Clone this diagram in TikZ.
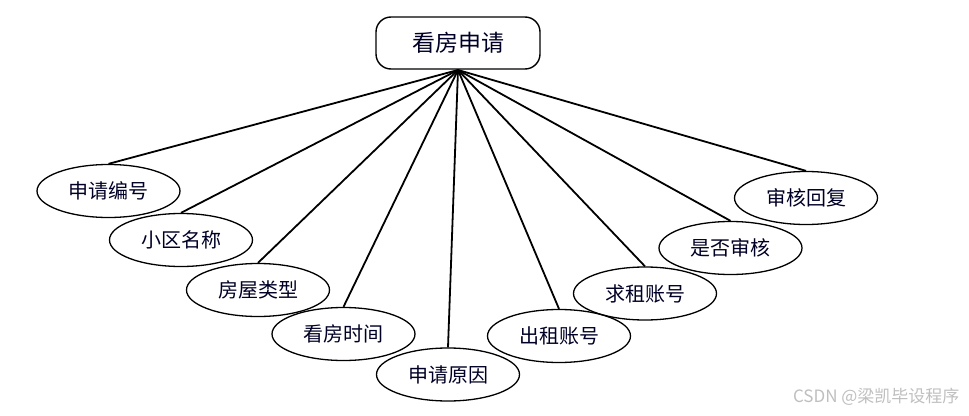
\documentclass[tikz,border=0pt]{standalone}
\usepackage{fontspec}
\setmainfont{Noto Sans CJK SC}
\newfontfamily\cjk{Noto Sans CJK SC}
\usetikzlibrary{shapes.geometric}
\begin{document}
\begin{tikzpicture}[x=1pt,y=-1pt,
  attr/.style={draw=black, line width=1.3pt, ellipse, minimum width=143pt, minimum height=53pt, inner sep=0pt, font=\cjk\fontsize{20}{22}\selectfont, text=black!85!blue},
  entity/.style={draw=black, line width=1.4pt, rounded corners=15pt, minimum width=164pt, minimum height=52pt, inner sep=0pt, font=\cjk\fontsize{23}{25}\selectfont, text=black!85!blue},
  link/.style={line width=1.8pt, black}]
\useasboundingbox (0,0) rectangle (969,415);
\fill[white] (0,0) rectangle (969,415);
\node[entity] (top) at (458,43) {看房申请};
\node[attr] (e1) at (108.5,191) {申请编号};
\node[attr] (e2) at (181,240) {小区名称};
\node[attr] (e3) at (258,290) {房屋类型};
\node[attr] (e4) at (343.5,334) {看房时间};
\node[attr] (e5) at (448,374.5) {申请原因};
\node[attr] (e6) at (559,336) {出租账号};
\node[attr] (e7) at (645,293.5) {求租账号};
\node[attr] (e8) at (730.5,248) {是否审核};
\node[attr] (e9) at (806,198) {审核回复};
\coordinate (hub) at (458,70);
\foreach \i in {1,...,9} \draw[link] (hub) -- (e\i.north);
\node[font=\cjk\fontsize{17}{19}\selectfont, text=black!25, anchor=east] (wm) at (963,397) {CSDN @梁凯毕设程序};
\end{tikzpicture}
\end{document}
